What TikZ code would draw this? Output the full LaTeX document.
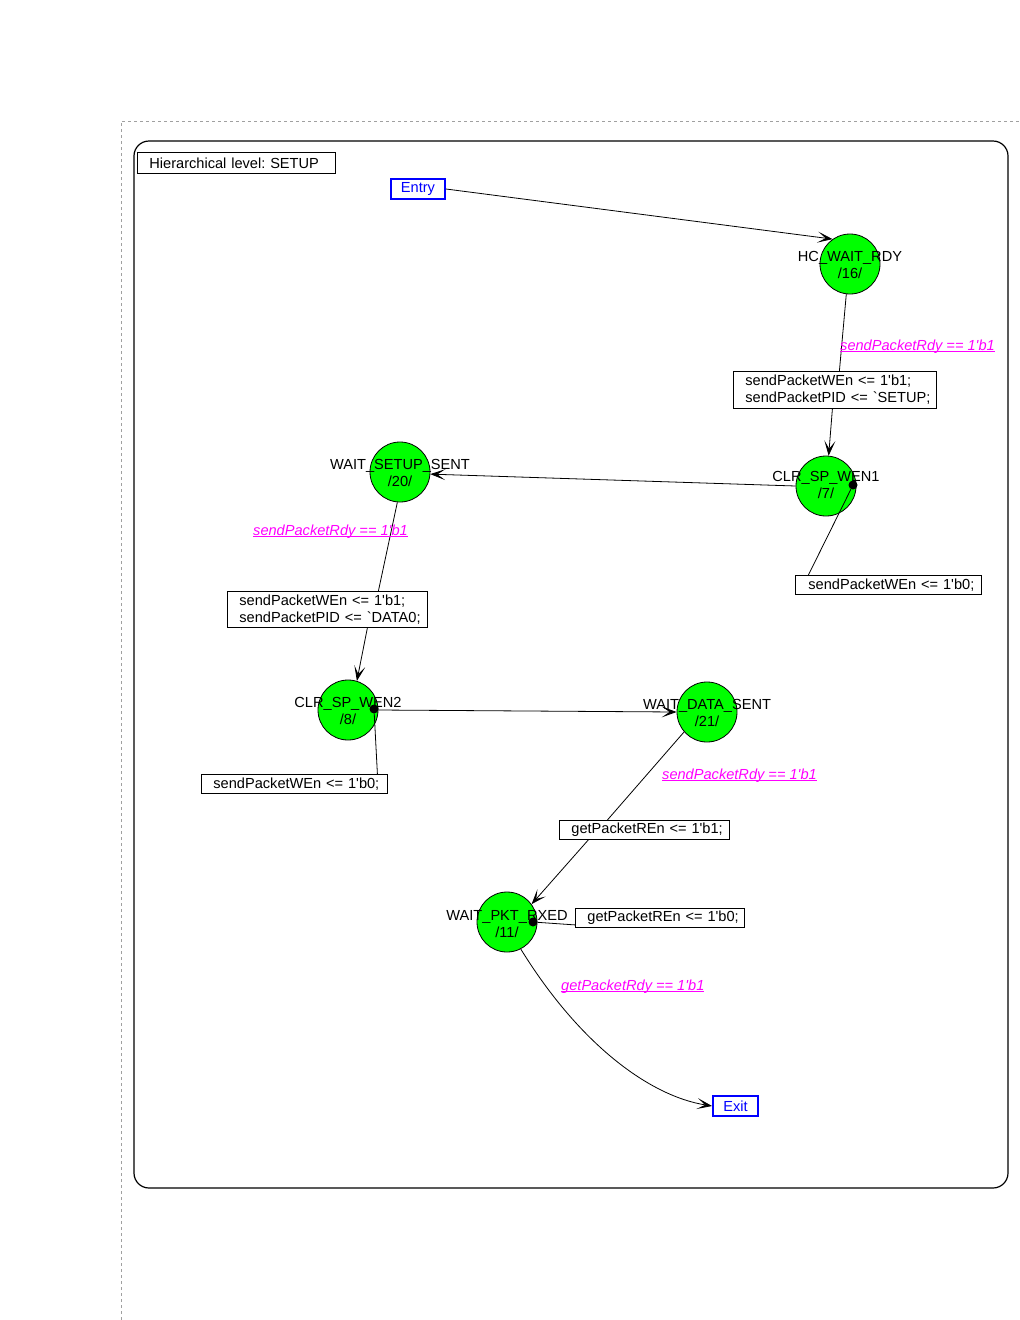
\documentclass[tikz,border=0pt]{standalone}
\usepackage{fontspec}
\setmainfont{Liberation Sans}
\usetikzlibrary{arrows.meta}
\frenchspacing
\definecolor{stategreen}{RGB}{0,255,0}
\definecolor{guardmag}{RGB}{255,0,255}
\definecolor{portblue}{RGB}{0,0,255}
\definecolor{framegray}{RGB}{160,160,160}
% underlined guard text with a rule tight under the baseline
\newcommand\guardline[1]{\setbox0\hbox{#1}\rlap{\rule[-2pt]{\wd0}{0.9pt}}\box0}
% one indented line inside an action box
\newcommand\actline[1]{\hspace*{12pt}\mbox{#1}}
\begin{document}
\begin{tikzpicture}[x=1pt,y=-1pt,
  every node/.style={font=\fontsize{14.6}{17}\selectfont},
  state/.style={circle,draw,fill=stategreen,minimum size=60pt,inner sep=0pt,line width=0.8pt},
  statename/.style={align=center,inner sep=0pt},
  action/.style={draw,anchor=north west,align=left,inner sep=0pt,line width=0.8pt},
  guard/.style={anchor=base west,inner sep=0pt,text=guardmag,font=\fontsize{14.6}{17}\selectfont\itshape},
  port/.style={draw=portblue,line width=2pt,text=portblue,inner sep=0pt},
  hook/.style={circle,fill=black,minimum size=9pt,inner sep=0pt},
  link/.style={line width=0.8pt},
  arr/.style={link,-{Stealth[length=15pt,width=11pt,inset=8pt]}}]
\useasboundingbox (0,0) rectangle (1020,1320);

% page frame and hierarchy boundary
\draw[framegray,line width=0.8pt,dash pattern=on 3pt off 3pt] (121,1320) -- (121,121) -- (1020,121);
\draw[line width=1.2pt,rounded corners=15pt] (134,141) rectangle (1008,1188);
\node[action,text width=198pt,minimum height=21pt] (level) at (137,152) {\actline{Hierarchical level: SETUP}};

% entry / exit ports
\node[port,minimum width=54pt,minimum height=20pt] (entry) at (418,189) {Entry};
\node[port,minimum width=45pt,minimum height=20pt] (exit) at (735.5,1106) {Exit};

% states
\node[state] (s16) at (850,264) {};
\node[state] (s7)  at (826,486) {};
\node[state] (s20) at (400,472) {};
\node[state] (s8)  at (348,710) {};
\node[state] (s21) at (707,712) {};
\node[state] (s11) at (507,922) {};

% state actions
\node[action,text width=203pt,minimum height=37pt] (a1) at (733,371)
  {\actline{sendPacketWEn <= 1\textquotesingle b1;}\\\actline{sendPacketPID <= \textasciigrave SETUP;}};
\node[action,text width=186pt,minimum height=19pt] (a2) at (795,575)
  {\actline{\hspace*{1pt}sendPacketWEn <= 1\textquotesingle b0;}};
\node[action,text width=200pt,minimum height=36pt] (a3) at (227,591)
  {\actline{sendPacketWEn <= 1\textquotesingle b1;}\\\actline{sendPacketPID <= \textasciigrave DATA0;}};
\node[action,text width=186pt,minimum height=19pt] (a4) at (201,774)
  {\actline{sendPacketWEn <= 1\textquotesingle b0;}};
\node[action,text width=170pt,minimum height=19pt] (a5) at (559,820)
  {\actline{getPacketREn <= 1\textquotesingle b1;}};
\node[action,text width=169pt,minimum height=19pt] (a6) at (575,908)
  {\actline{getPacketREn <= 1\textquotesingle b0;}};

% transitions
\draw[arr] (entry.east) -- (s16.125);
\draw[link] (s16.-97) -- ([xshift=4.5pt]a1.north);
\draw[arr] ([xshift=-2.5pt]a1.south) -- (s7.85);
\draw[arr] (s7.west) -- (s20.-4);
\draw[link] (s20.-95) -- ([xshift=51pt]a3.north);
\draw[arr] ([xshift=40pt]a3.south) -- (s8.73);
\draw[arr] (s8.east) -- (s21.west);
\draw[link] (s21.-139) -- ([xshift=-37pt]a5.north);
\draw[arr] ([xshift=-56pt]a5.south) -- (s11.36);
\draw[arr] (s11.-63) .. controls (580,1045) and (650,1096) .. (exit.west);

% state names drawn over the circles
\node[statename] (n16) at (850,265) {HC\_WAIT\_RDY\\/16/};
\node[statename] (n7)  at (826,485) {CLR\_SP\_WEN1\\/7/};
\node[statename] (n20) at (400,473) {WAIT\_SETUP\_SENT\\/20/};
\node[statename] (n8)  at (348,711) {CLR\_SP\_WEN2\\/8/};
\node[statename] (n21) at (707,713) {WAIT\_DATA\_SENT\\/21/};
\node[statename] (n11) at (507,924) {WAIT\_PKT\_RXED\\/11/};

% entry-action hooks
\node[hook] (h7)  at (853,485) {};
\node[hook] (h8)  at (374,709) {};
\node[hook] (h11) at (533,922) {};
\draw[link] (h7) -- ([xshift=-80pt]a2.north);
\draw[link] (h8) -- ([xshift=83pt]a4.north);
\draw[link] (h11) -- ([yshift=-7pt]a6.west);

% guards
\node[guard] (g1) at (840,350) {\guardline{sendPacketRdy == 1\textquotesingle b1}};
\node[guard] (g2) at (253,535) {\guardline{sendPacketRdy == 1\textquotesingle b1}};
\node[guard] (g3) at (662,779) {\guardline{sendPacketRdy == 1\textquotesingle b1}};
\node[guard] (g4) at (561,990) {\guardline{getPacketRdy == 1\textquotesingle b1}};
\end{tikzpicture}
\end{document}
